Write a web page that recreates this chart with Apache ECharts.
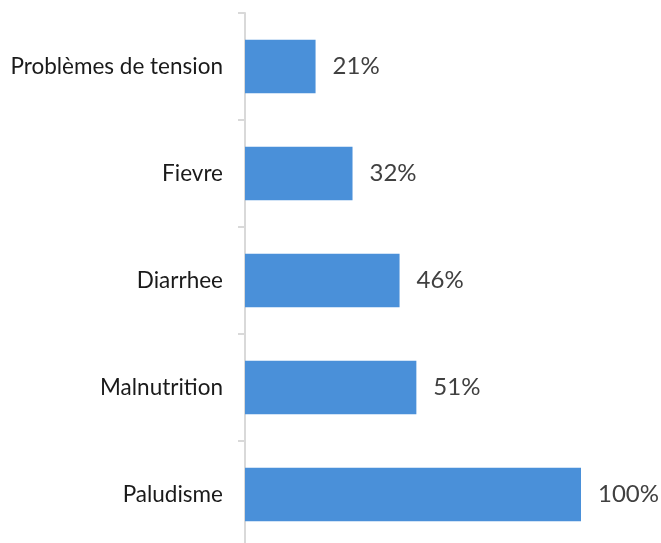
<!DOCTYPE html>
<html>
<head>
<meta charset="utf-8">
<script src="https://cdn.jsdelivr.net/npm/echarts@6/dist/echarts.min.js"></script>
<style>
  html, body { margin: 0; padding: 0; background: #ffffff; }
  #chart { width: 661px; height: 543px; }
</style>
</head>
<body>
<div id="chart"></div>
<script>
// Categories listed bottom-to-top (category y-axis grows upward)
const categories = ['Paludisme', 'Malnutrition', 'Diarrhee', 'Fievre', 'Problèmes de tension'];
const percentValues = [100, 51, 46, 32, 21];

const chart = echarts.init(document.getElementById('chart'), null, { renderer: 'canvas' });

chart.setOption({
  animation: false,
  backgroundColor: '#ffffff',
  grid: {
    left: 245, top: 13, width: 336, height: 535,
    containLabel: false,
    outerBoundsMode: 'none'
  },
  xAxis: {
    type: 'value',
    min: 0,
    max: 100,
    show: false
  },
  yAxis: {
    type: 'category',
    data: categories,
    axisLine: { show: true, lineStyle: { color: '#d9d9d9', width: 2 } },
    axisTick: { show: true, length: 7, lineStyle: { color: '#d9d9d9', width: 2 } },
    axisLabel: {
      margin: 22,
      color: '#1a1a1a',
      fontFamily: 'Lato',
      fontSize: 22.5
    },
    splitLine: { show: false }
  },
  series: [{
    type: 'bar',
    data: percentValues,
    barWidth: '50%',
    itemStyle: { color: '#4a90d9' },
    label: {
      show: true,
      position: 'right',
      distance: 17,
      formatter: '{c}%',
      color: '#404040',
      fontFamily: 'Lato',
      fontSize: 24
    }
  }]
});
</script>
</body>
</html>
